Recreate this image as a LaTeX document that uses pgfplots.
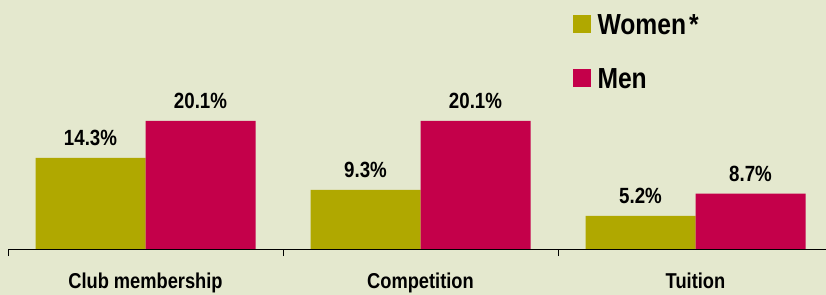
\documentclass[border=0pt]{standalone}
\usepackage{fontspec}
\setmainfont{Liberation Sans}[FakeStretch=0.85]
\usepackage{pgfplots}
\pgfplotsset{compat=1.18}
\definecolor{bgc}{HTML}{E4E8CE}
\definecolor{olivec}{HTML}{B0A800}
\definecolor{crimc}{HTML}{C4004A}
\begin{document}
\begin{tikzpicture}
\useasboundingbox (0,0) rectangle (826bp,295bp);
\fill[bgc] (0,0) rectangle (826bp,295bp);
\clip (0,0) rectangle (826bp,295bp);
\begin{axis}[
  at={(8bp,46bp)}, anchor=south west,
  scale only axis, width=825bp, height=249bp,
  xmin=-0.5, xmax=2.5, ymin=0, ymax=39.1,
  axis x line*=bottom, hide y axis,
  axis line style={black, line width=0.8bp, -},
  ybar, bar width=0.4,
  xtick={0,1,2},
  xticklabels={Club membership, Competition, Tuition},
  major tick length=0pt,
  extra x ticks={-0.5,0.5,1.5,2.5},
  extra x tick labels={},
  extra x tick style={major tick length=7bp, tick style={black, line width=0.8bp}, tick align=outside},
  xticklabel style={font=\bfseries\fontsize{21.5bp}{24bp}\selectfont, anchor=north, yshift=-20bp},
  nodes near coords,
  point meta=explicit symbolic,
  every node near coord/.append style={font=\bfseries\fontsize{22bp}{24bp}\selectfont, black, inner sep=0pt, anchor=south, yshift=12bp},
  legend image code/.code={\fill[#1,draw=none] (0bp,-9bp) rectangle (18bp,9bp);},
  legend style={draw=none, fill=none, at={(0.684,0.944)}, anchor=north west, inner sep=0pt,
    font=\bfseries\fontsize{29bp}{32bp}\selectfont, row sep=34bp,
    nodes={inner sep=0pt, text depth=0pt}, legend cell align=left},
  clip=false,
]
\addplot[fill=olivec, draw=none, bar shift=-0.2] coordinates {(0,14.3) [14.3\%] (1,9.3) [9.3\%] (2,5.2) [5.2\%]};
\addlegendentry{\hspace{7bp}Women\hspace{3bp}*}
\addplot[fill=crimc, draw=none, bar shift=0.2] coordinates {(0,20.1) [20.1\%] (1,20.1) [20.1\%] (2,8.7) [8.7\%]};
\addlegendentry{\hspace{7bp}Men}
\end{axis}
\end{tikzpicture}
\end{document}
